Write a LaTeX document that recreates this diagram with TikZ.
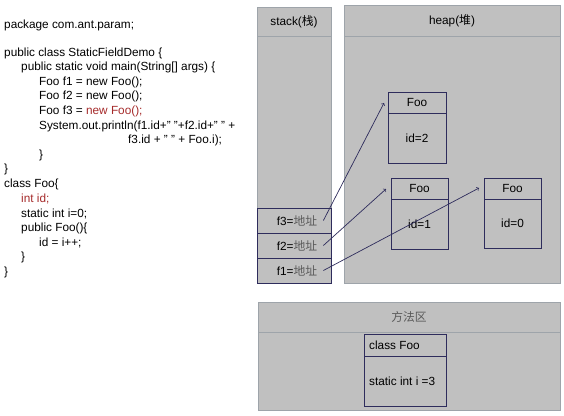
\documentclass[tikz,border=0pt]{standalone}
\usepackage{fontspec}
\setmainfont{Liberation Sans}
\newfontfamily\cjk{Noto Sans CJK SC}
\definecolor{panelfill}{HTML}{C0C0C0}
\definecolor{paneledge}{HTML}{9EA4AA}
\definecolor{navy}{HTML}{2E2C5C}
\definecolor{codered}{HTML}{A52A2A}
\definecolor{cjkgray}{HTML}{5A5A5A}

\begin{document}
\begin{tikzpicture}[x=1pt,y=-1pt,
		code/.style={anchor=west,inner sep=0pt,font=\fontsize{11.8}{13}\selectfont},
		lbl/.style={inner sep=0pt,font=\fontsize{11.8}{13}\selectfont},
		panel/.style={draw=paneledge,fill=panelfill,line width=1pt},
		obj/.style={draw=navy,line width=0.8pt},
		ref/.style={draw=navy,line width=0.7pt,->}]
		\useasboundingbox (0,0) rectangle (564,415);

		% source code
		\node[code] (L1)  at (4,25)    {package com.ant.param;};
		\node[code] (L2)  at (4,53)    {public class StaticFieldDemo \{};
		\node[code] (L3)  at (21,67.6) {public static void main(String[] args) \{};
		\node[code] (L4)  at (39,82.2) {Foo f1 = new Foo();};
		\node[code] (L5)  at (39,96.8) {Foo f2 = new Foo();};
		\node[code] (L6)  at (39,111.4) {Foo f3 = \textcolor{codered}{new Foo();}};
		\node[code] (L7)  at (39,126)  {System.out.println(f1.id+" "+f2.id+" " +};
		\node[code] (L8)  at (128,140.6) {f3.id + " " + Foo.i);};
		\node[code] (L9)  at (39,155.2) {\}};
		\node[code] (L10) at (4,169.8) {\}};
		\node[code] (L11) at (4,184.4) {class Foo\{};
		\node[code] (L12) at (21,199)  {\textcolor{codered}{int id;}};
		\node[code] (L13) at (21,213.6) {static int i=0;};
		\node[code] (L14) at (21,228.2) {public Foo()\{};
		\node[code] (L15) at (39,242.8) {id = i++;};
		\node[code] (L16) at (21,257.4) {\}};
		\node[code] (L17) at (4,272)   {\}};

		% stack
		\draw[panel] (257,7) rectangle (331,36);
		\draw[panel] (257,36) rectangle (331,283);
		\node[lbl] (stk) at (294,21.5) {stack({\cjk 栈})};
		\draw[obj] (257,208) rectangle (331,233);
		\draw[obj] (257,233) rectangle (331,258);
		\draw[obj] (257,258) rectangle (331,283);
		\node[lbl] (f3) at (297,220.5) {f3={\cjk\color{cjkgray}地址}};
		\node[lbl] (f2) at (297,245.5) {f2={\cjk\color{cjkgray}地址}};
		\node[lbl] (f1) at (297,270.5) {f1={\cjk\color{cjkgray}地址}};

		% heap
		\draw[panel] (344,5) rectangle (560,36);
		\draw[panel] (344,36) rectangle (560,283);
		\node[lbl] (hp) at (452,20.5) {heap({\cjk 堆})};

		\draw[obj] (388,92) rectangle (446,163);
		\draw[obj] (388,113) -- (446,113);
		\node[lbl] (A) at (417,102.5) {Foo};
		\node[lbl] (a) at (417,138) {id=2};

		\draw[obj] (391,178) rectangle (448,249);
		\draw[obj] (391,199) -- (448,199);
		\node[lbl] (B) at (419.5,188.5) {Foo};
		\node[lbl] (b) at (419.5,224) {id=1};

		\draw[obj] (484,178) rectangle (541,248);
		\draw[obj] (484,199) -- (541,199);
		\node[lbl] (C) at (512.5,188) {Foo};
		\node[lbl] (c) at (512.5,223.5) {id=0};

		% references
		\coordinate (P3) at (384,103);
		\coordinate (P2) at (386,189);
		\coordinate (P1) at (479,188);
		\draw[ref] ([xshift=6pt]f3.east) -- (P3);
		\draw[ref] ([xshift=6pt]f2.east) -- (P2);
		\draw[ref] ([xshift=6pt]f1.east) -- (P1);

		% method area
		\draw[panel] (258,302) rectangle (560,332);
		\draw[panel] (258,332) rectangle (560,410);
		\node[lbl] (ma) at (409,317) {\cjk\color{cjkgray}方法区};

		\draw[obj,fill=panelfill] (364,334) rectangle (446,406);
		\draw[obj] (364,356) -- (446,356);
		\node[lbl,anchor=west] (D) at (369,345) {class Foo};
		\node[lbl,anchor=west] (d) at (369,381) {static int i =3};

	\end{tikzpicture}
\end{document}
